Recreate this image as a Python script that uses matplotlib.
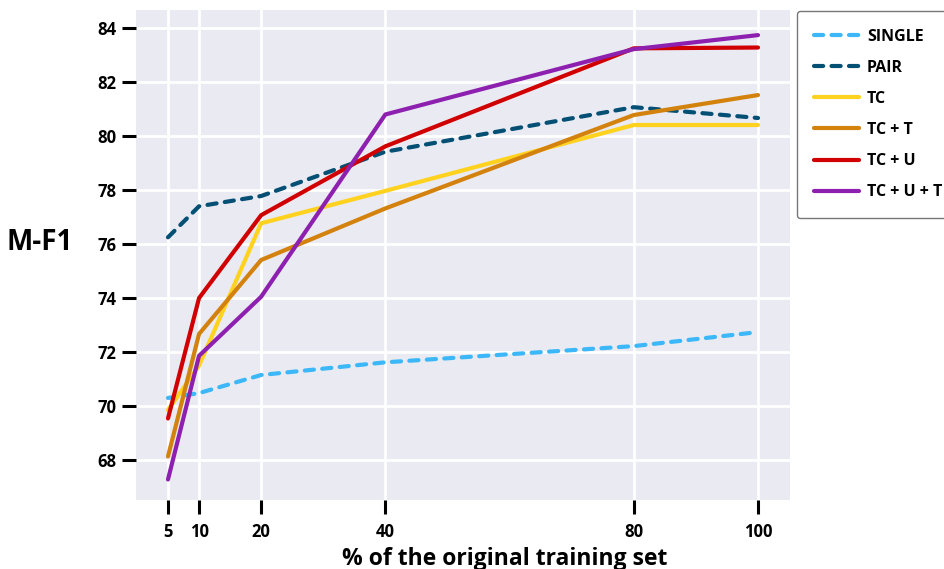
import matplotlib
matplotlib.use("Agg")
import matplotlib.pyplot as plt

x_vals = [5, 10, 20, 40, 80, 100]
x_ticks = [5, 10, 20, 40, 80, 100]
y_ticks = [68, 70, 72, 74, 76, 78, 80, 82, 84]

single = [70.30, 70.48, 71.15, 71.62, 72.22, 72.74]
pair = [76.25, 77.40, 77.78, 79.42, 81.07, 80.67]
tc = [69.85, 71.50, 76.77, 77.97, 80.41, 80.41]
tc_t = [68.13, 72.67, 75.41, 77.32, 80.78, 81.52]
tc_u = [69.54, 74.00, 77.07, 79.62, 83.25, 83.28]
tc_u_t = [67.28, 71.86, 74.05, 80.80, 83.22, 83.74]

series = [
    ("SINGLE", single, "#3cb8f8", "dash"),
    ("PAIR", pair, "#044f74", "dash"),
    ("TC", tc, "#ffd21f", "solid"),
    ("TC + T", tc_t, "#d4820e", "solid"),
    ("TC + U", tc_u, "#d10000", "solid"),
    ("TC + U + T", tc_u_t, "#8e20b0", "solid"),
]

plt.rcParams['font.family'] = ['Open Sans', 'DejaVu Sans']
plt.rcParams['font.weight'] = 'bold'

fig = plt.figure(figsize=(9.44, 5.69), dpi=100)
ax = fig.add_axes([136/944, 69/569, 654/944, 490/569])
ax.set_facecolor("#eaeaf2")
for s in ax.spines.values():
    s.set_visible(False)

ax.set_axisbelow(True)
ax.grid(True, color="white", linewidth=2)

for label, vals, color, style in series:
    if style == "dash":
        ax.plot(x_vals, vals, color=color, linewidth=3, linestyle=(0, (2.2, 2.0)),
                dash_capstyle='round', label=label)
    else:
        ax.plot(x_vals, vals, color=color, linewidth=3, solid_capstyle='round', label=label)

ax.set_xlim(-0.15, 105.15)
ax.set_ylim(66.52, 84.67)
ax.set_xticks(x_ticks)
ax.set_xticklabels([str(t) for t in x_ticks])
ax.set_yticks(y_ticks)
ax.set_yticklabels([str(t) for t in y_ticks])
ax.tick_params(axis='both', length=10, width=2.2, color='black', labelsize=12)
ax.tick_params(axis='x', pad=6.5)
ax.tick_params(axis='y', pad=4)
for t in ax.get_xticklabels() + ax.get_yticklabels():
    t.set_fontweight('bold')

fig.text(505/944, (569-565)/569, "% of the original training set", fontsize=16.5,
         fontweight='bold', ha='center', va='baseline')
fig.text(40/944, 1 - 243/569, "M-F1", fontsize=20, fontweight='bold', ha='center', va='center')

leg = ax.legend(loc='upper left', bbox_to_anchor=(1.01, 0.998), fontsize=11.5,
                handlelength=2.8, handletextpad=0.5, labelspacing=0.95,
                borderpad=1.1, borderaxespad=0, frameon=True, fancybox=True,
                facecolor='white', edgecolor='#777777', framealpha=1)
for t in leg.get_texts():
    t.set_fontweight('bold')

fig.savefig("out.png", dpi=100)
